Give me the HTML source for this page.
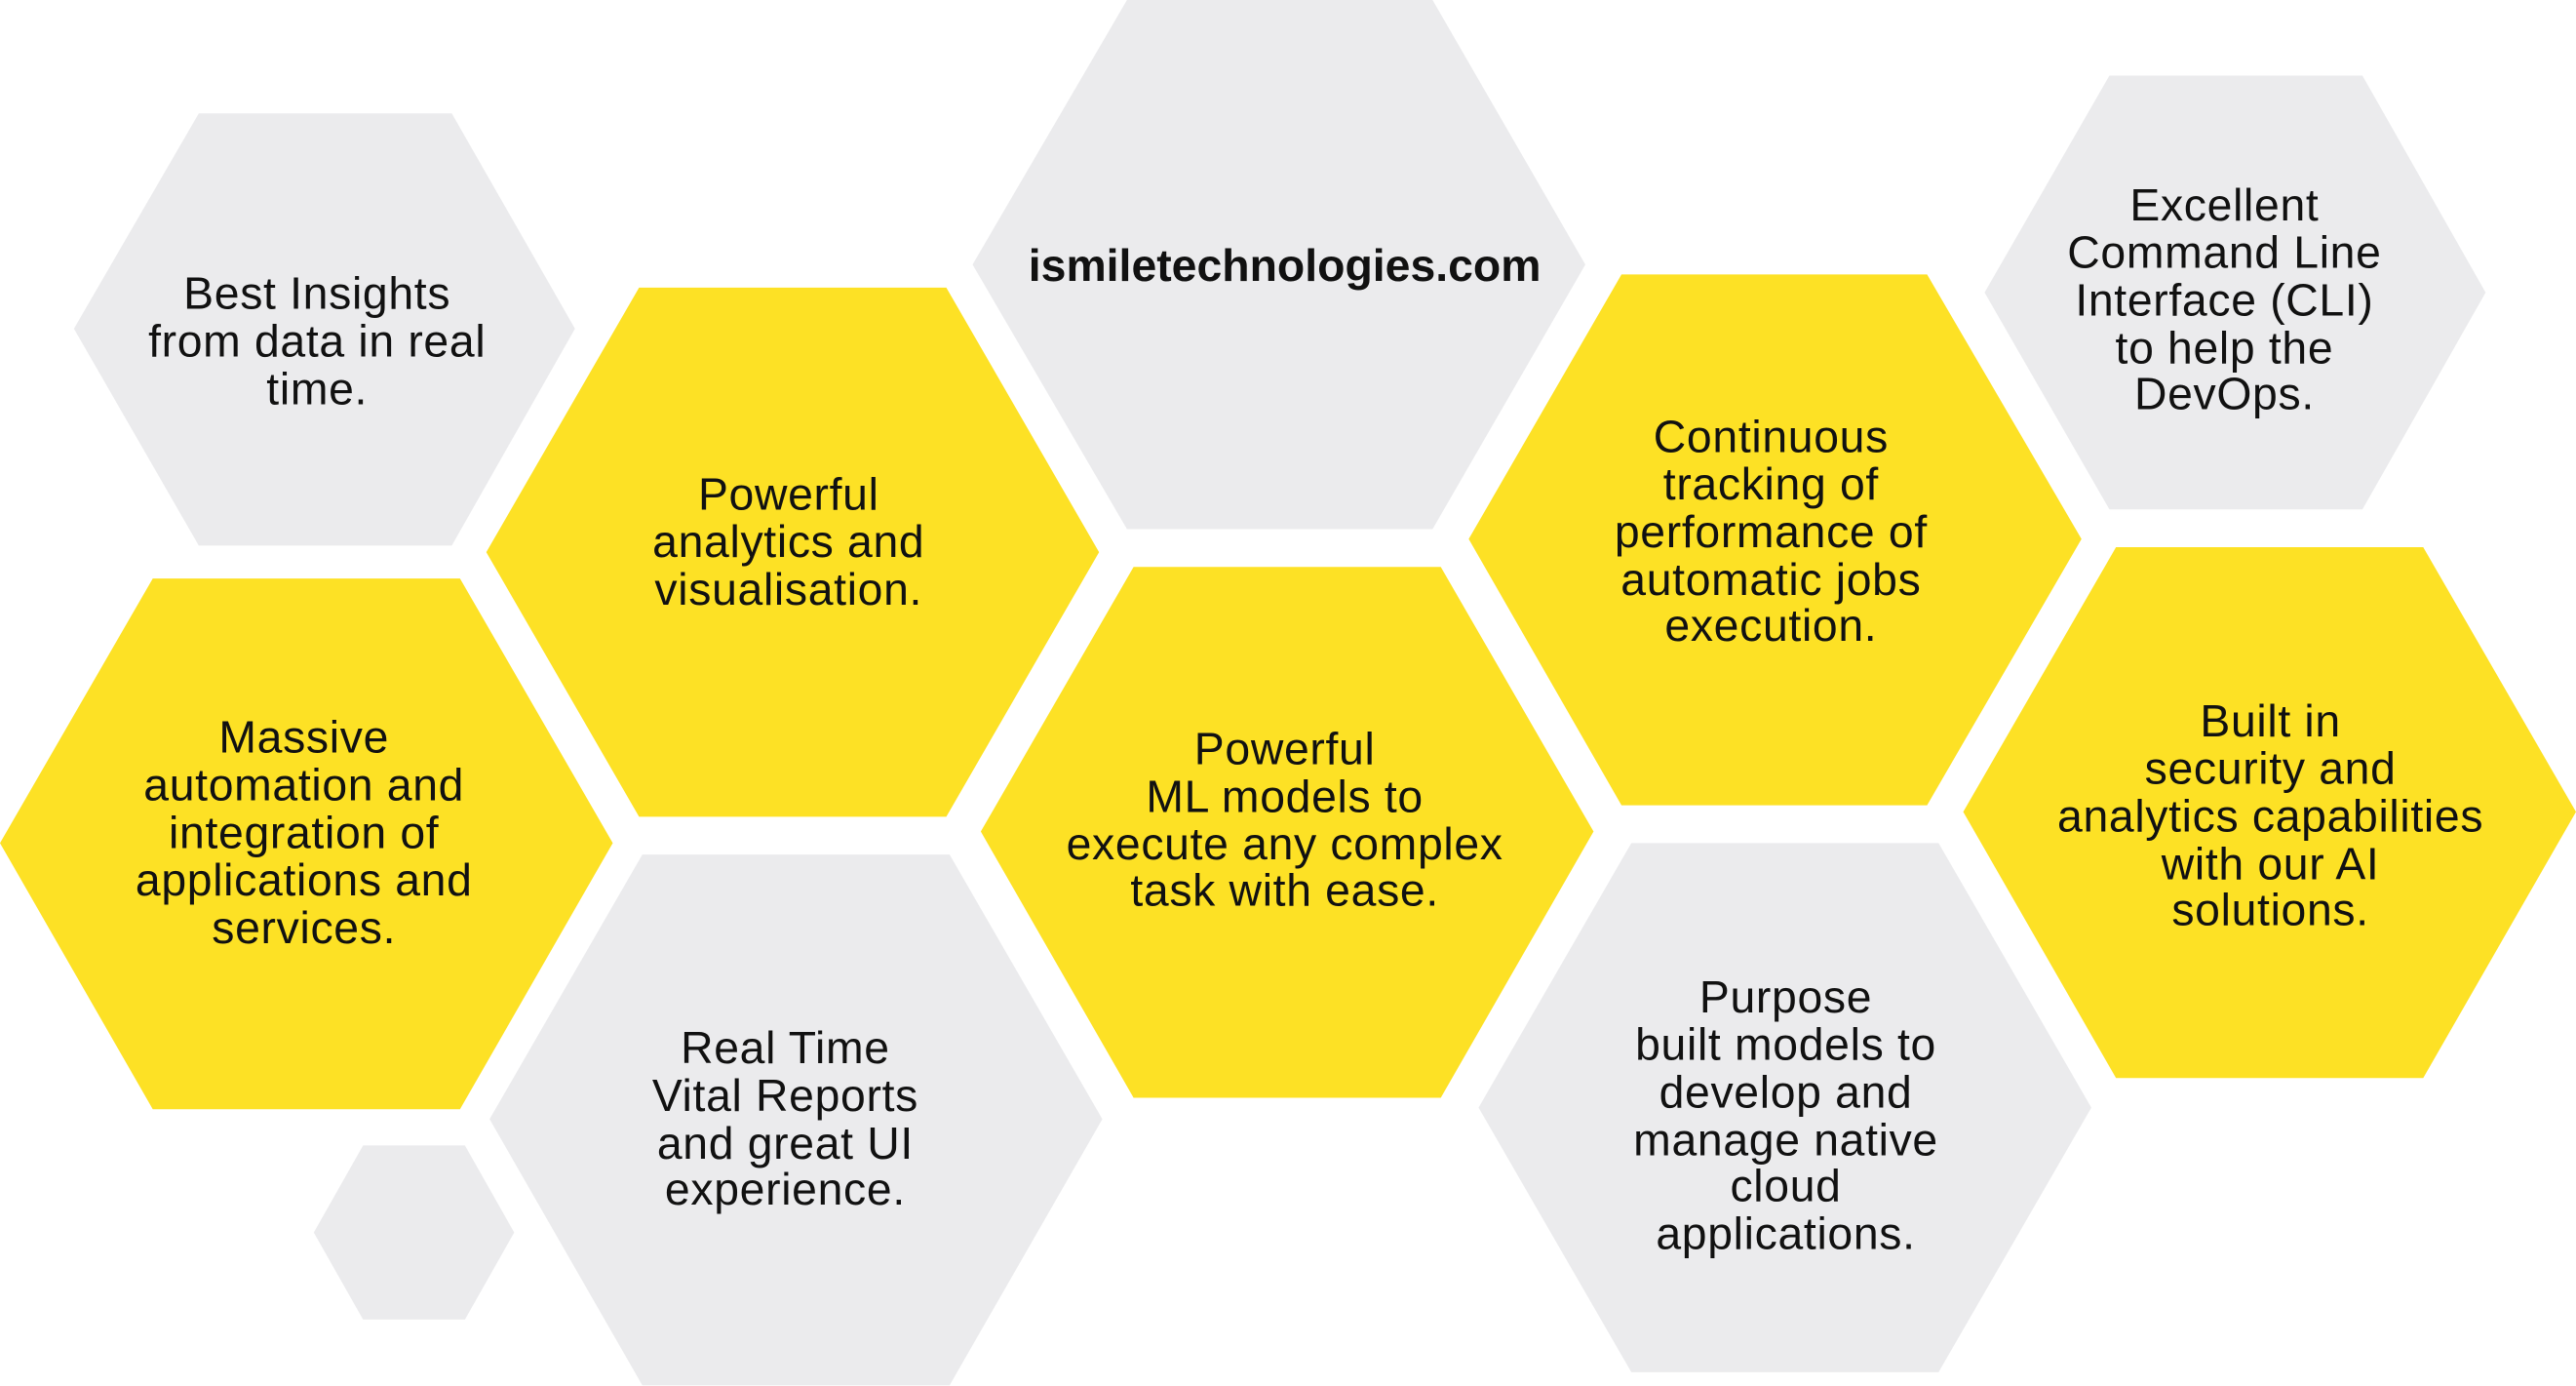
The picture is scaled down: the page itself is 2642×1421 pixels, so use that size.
<!DOCTYPE html>
<html><head><meta charset="utf-8"><style>
html,body{margin:0;padding:0;background:#fff;}
svg{display:block;}
text{font-family:"Liberation Sans",sans-serif;fill:#111;text-anchor:middle;font-size:27.5px;letter-spacing:0.4px;}
</style></head><body>
<svg width="2642" height="1421" viewBox="0 0 1568 843.4" preserveAspectRatio="none" xmlns="http://www.w3.org/2000/svg">
<g fill="#EBEBED">
<polygon points="45,200 121,69 275,69 350,200 275,332 121,332"/>
<polygon points="592,161 686,0 872,0 965,161 872,322 686,322"/>
<polygon points="1208,178 1284,46 1438,46 1513,178 1438,310 1284,310"/>
<polygon points="298,681 391,520 578,520 671,681 578,843 391,843"/>
<polygon points="900,674 993,513 1180,513 1273,674 1180,835 993,835"/>
<polygon points="191,750 221,697 283,697 313,750 283,803 221,803"/>
</g>
<g fill="#FDE125">
<polygon points="296,336 389,175 576,175 669,336 576,497 389,497"/>
<polygon points="894,328 987,167 1173,167 1267,328 1173,490 987,490"/>
<polygon points="0,513 93,352 280,352 373,513 280,675 93,675"/>
<polygon points="597,506 690,345 877,345 970,506 877,668 690,668"/>
<polygon points="1195,494 1288,333 1475,333 1568,494 1475,656 1288,656"/>
</g>
<text x="782" y="171" font-weight="bold" font-size="36" style="letter-spacing:0" textLength="312" lengthAdjust="spacingAndGlyphs">ismiletechnologies.com</text>
<text x="193" y="188">Best Insights</text>
<text x="193" y="217">from data in real</text>
<text x="193" y="246">time.</text>
<text x="480" y="310">Powerful</text>
<text x="480" y="339">analytics and</text>
<text x="480" y="368">visualisation.</text>
<text x="1078" y="275">Continuous</text>
<text x="1078" y="304">tracking of</text>
<text x="1078" y="333">performance of</text>
<text x="1078" y="362">automatic jobs</text>
<text x="1078" y="390">execution.</text>
<text x="1354" y="134">Excellent</text>
<text x="1354" y="163">Command Line</text>
<text x="1354" y="192">Interface (CLI)</text>
<text x="1354" y="221">to help the</text>
<text x="1354" y="249">DevOps.</text>
<text x="185" y="458">Massive</text>
<text x="185" y="487">automation and</text>
<text x="185" y="516">integration of</text>
<text x="185" y="545">applications and</text>
<text x="185" y="574">services.</text>
<text x="782" y="465">Powerful</text>
<text x="782" y="494">ML models to</text>
<text x="782" y="523">execute any complex</text>
<text x="782" y="551">task with ease.</text>
<text x="1382" y="448">Built in</text>
<text x="1382" y="477">security and</text>
<text x="1382" y="506">analytics capabilities</text>
<text x="1382" y="535">with our AI</text>
<text x="1382" y="563">solutions.</text>
<text x="478" y="647">Real Time</text>
<text x="478" y="676">Vital Reports</text>
<text x="478" y="705">and great UI</text>
<text x="478" y="733">experience.</text>
<text x="1087" y="616">Purpose</text>
<text x="1087" y="645">built models to</text>
<text x="1087" y="674">develop and</text>
<text x="1087" y="703">manage native</text>
<text x="1087" y="731">cloud</text>
<text x="1087" y="760">applications.</text>
</svg>
</body></html>
